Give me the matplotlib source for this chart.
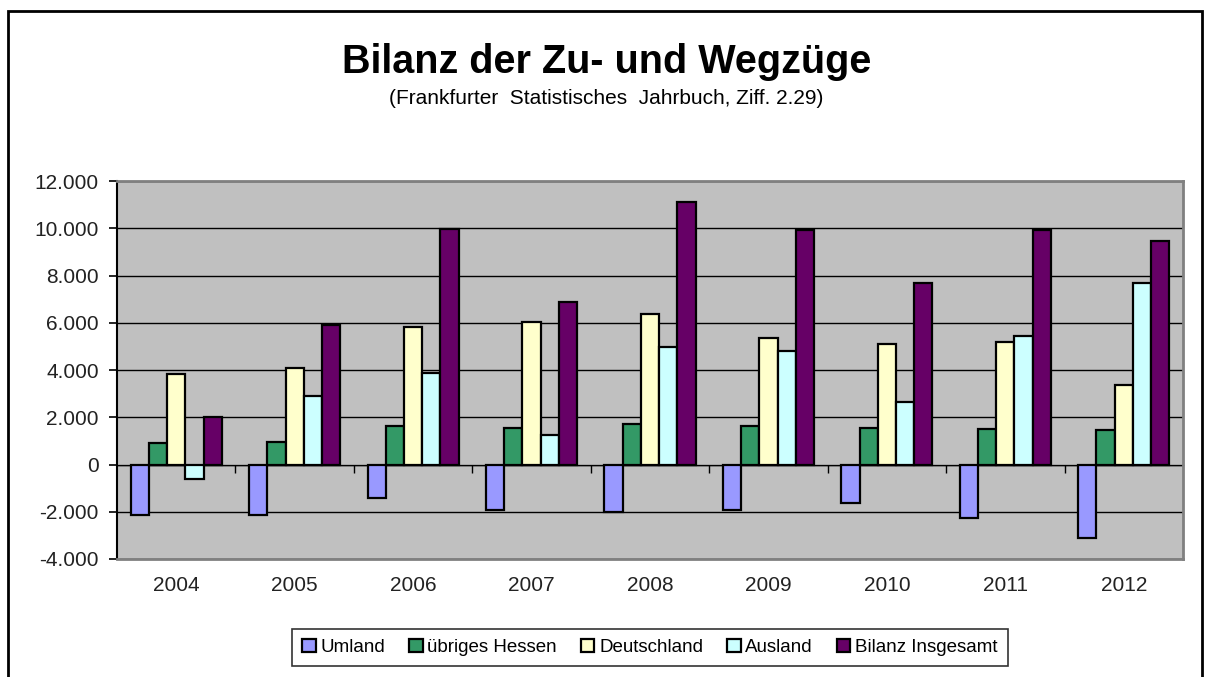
import numpy as np
import matplotlib
matplotlib.use('Agg')
import matplotlib.pyplot as plt
from matplotlib.patches import Rectangle
from matplotlib.ticker import FuncFormatter

plt.rcParams['font.family'] = ['Liberation Sans', 'DejaVu Sans']

# Data
years = ['2004', '2005', '2006', '2007', '2008', '2009', '2010', '2011', '2012']
umland = [-2120, -2120, -1420, -1930, -2000, -1930, -1620, -2280, -3090]
hessen = [910, 940, 1650, 1560, 1730, 1620, 1560, 1510, 1450]
deutschland = [3840, 4090, 5840, 6020, 6380, 5350, 5100, 5200, 3350]
ausland = [-600, 2890, 3870, 1230, 4970, 4800, 2650, 5420, 7680]
insgesamt = [2030, 5910, 9970, 6880, 11100, 9930, 7690, 9930, 9480]

series = [umland, hessen, deutschland, ausland, insgesamt]
names = ['Umland', 'übriges Hessen', 'Deutschland', 'Ausland', 'Bilanz Insgesamt']
colors = ['#9999FF', '#339966', '#FFFFCC', '#CCFFFF', '#660066']

fig = plt.figure(figsize=(12.06, 6.77), dpi=100)

# outer chart border
fig.patches.append(Rectangle((7.5 / 1206, -0.1), 1194 / 1206, 1.1 - 10.5 / 677,
                             transform=fig.transFigure, fill=False,
                             edgecolor='black', linewidth=2, zorder=0))

ax = fig.add_axes([117 / 1206, (677 - 559) / 677, 1066 / 1206, 378 / 677])
ax.set_facecolor('#C0C0C0')

x = np.arange(len(years))
w = 1 / 6.5
for i, (vals, name, c) in enumerate(zip(series, names, colors)):
    ax.bar(x + (i - 2) * w, vals, width=w, color=c, edgecolor='black',
           linewidth=1.6, label=name, zorder=3)

ax.set_xlim(-0.5, len(years) - 0.5)
ax.set_ylim(-4000, 12000)
ax.set_yticks(np.arange(-4000, 12001, 2000))
ax.yaxis.set_major_formatter(FuncFormatter(lambda v, p: f'{v:,.0f}'.replace(',', '.')))
ax.grid(axis='y', color='black', linewidth=1, zorder=1)
ax.set_axisbelow(True)

ax.set_xticks(x)
ax.set_xticklabels(years)
ax.tick_params(axis='x', length=0, pad=12, labelsize=15, colors='#222222')
ax.tick_params(axis='y', length=6, width=1.2, pad=7, labelsize=15, colors='#222222')
ax.tick_params(axis='y', color='black')

for s in ['top', 'right', 'bottom']:
    ax.spines[s].set_color('#808080')
    ax.spines[s].set_linewidth(2)
ax.spines['left'].set_color('black')
ax.spines['left'].set_linewidth(1.5)

# category axis crossing at zero with boundary ticks
sec = ax.secondary_xaxis(4000 / 16000)
sec.set_xticks(np.arange(0.5, len(years) - 0.5, 1))
sec.set_xticklabels([])
sec.tick_params(axis='x', direction='out', length=6, width=1, color='black')
sec.spines['bottom'].set_linewidth(1)

fig.text(0.503, 1 - 62 / 677, 'Bilanz der Zu- und Wegzüge', ha='center', va='center',
         fontsize=28.5, fontweight='bold')
fig.text(0.503, 1 - 99 / 677, '(Frankfurter  Statistisches  Jahrbuch, Ziff. 2.29)',
         ha='center', va='center', fontsize=15)

leg = fig.legend(loc='center', bbox_to_anchor=(650 / 1206, 1 - 647.5 / 677), ncol=5,
                 fontsize=13.5, frameon=True, fancybox=False, edgecolor='black',
                 handlelength=0.7, handleheight=0.7, handletextpad=0.25,
                 columnspacing=1.3, borderpad=0.55)
leg.get_frame().set_linewidth(1.2)

fig.savefig('out.png', dpi=100)
